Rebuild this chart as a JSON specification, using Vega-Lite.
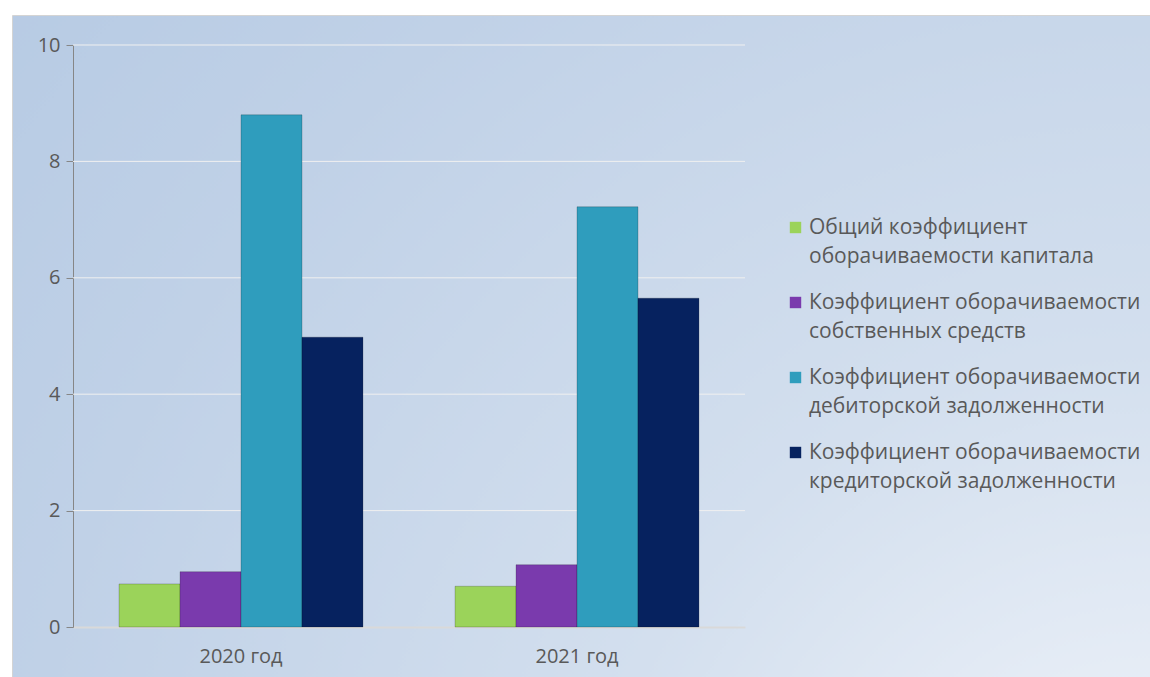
{
  "$schema": "https://vega.github.io/schema/vega-lite/v6.json",
  "width": 1138,
  "height": 662,
  "autosize": "none",
  "padding": {"left": 12, "top": 15, "right": 0, "bottom": 0},
  "background": "#ffffff",
  "config": {
    "font": "Open Sans",
    "view": {
      "fill": {"gradient": "radial", "x1": 1, "y1": 1, "r1": 0, "x2": 1, "y2": 1, "r2": 1.414,
        "stops": [
          {"offset": 0, "color": "#f3f6fb"},
          {"offset": 0.35, "color": "#d3dfee"},
          {"offset": 0.7, "color": "#c0d1e7"},
          {"offset": 1, "color": "#b3c8e2"}
        ]},
      "stroke": "#d4d4d4"
    },
    "style": {"guide-label": {"lineHeight": 29}}
  },
  "layer": [
    {
      "data": {"values": [{"value": 2}, {"value": 4}, {"value": 6}, {"value": 8}, {"value": 10}]},
      "mark": {"type": "rule", "color": "#f0f0f0", "strokeWidth": 1},
      "encoding": {
        "x": {"datum": 0, "type": "quantitative", "scale": {"domain": [0, 1], "range": [61, 733]}, "axis": null},
        "x2": {"datum": 1},
        "y": {"field": "value", "type": "quantitative"}
      }
    },
    {
      "data": {"values": [
        {"year": "2020 год", "series": "Общий коэффициент оборачиваемости капитала", "value": 0.74},
        {"year": "2020 год", "series": "Коэффициент оборачиваемости собственных средств", "value": 0.95},
        {"year": "2020 год", "series": "Коэффициент оборачиваемости дебиторской задолженности", "value": 8.8},
        {"year": "2020 год", "series": "Коэффициент оборачиваемости кредиторской задолженности", "value": 4.98},
        {"year": "2021 год", "series": "Общий коэффициент оборачиваемости капитала", "value": 0.7},
        {"year": "2021 год", "series": "Коэффициент оборачиваемости собственных средств", "value": 1.07},
        {"year": "2021 год", "series": "Коэффициент оборачиваемости дебиторской задолженности", "value": 7.22},
        {"year": "2021 год", "series": "Коэффициент оборачиваемости кредиторской задолженности", "value": 5.65}
      ]},
      "mark": {"type": "bar", "stroke": "#000000", "strokeOpacity": 0.2, "strokeWidth": 1},
      "encoding": {
        "x": {
          "field": "year", "type": "nominal",
          "scale": {"range": [61, 733], "paddingInner": 0.274, "paddingOuter": 0.137},
          "axis": {"title": null, "orient": "bottom", "offset": -50, "labelAngle": 0, "ticks": false,
            "domainColor": "#d9d9d9", "domainWidth": 2, "labelFontSize": 20, "labelColor": "#595959", "labelPadding": 19}
        },
        "xOffset": {
          "field": "series", "type": "nominal",
          "scale": {"domain": [
            "Общий коэффициент оборачиваемости капитала",
            "Коэффициент оборачиваемости собственных средств",
            "Коэффициент оборачиваемости дебиторской задолженности",
            "Коэффициент оборачиваемости кредиторской задолженности"
          ], "paddingInner": 0, "paddingOuter": 0}
        },
        "y": {
          "field": "value", "type": "quantitative",
          "scale": {"domain": [0, 10], "range": [612, 30], "nice": false, "zero": true},
          "axis": {"title": null, "orient": "left", "offset": -61, "values": [0, 2, 4, 6, 8, 10], "format": "d", "grid": false,
            "tickSize": 7, "tickColor": "#868686", "domainColor": "#868686", "labelFontSize": 20,
            "labelColor": "#595959", "labelPadding": 6}
        },
        "color": {
          "field": "series", "type": "nominal",
          "scale": {"domain": [
            "Общий коэффициент оборачиваемости капитала",
            "Коэффициент оборачиваемости собственных средств",
            "Коэффициент оборачиваемости дебиторской задолженности",
            "Коэффициент оборачиваемости кредиторской задолженности"
          ], "range": ["#9bd35a", "#7a3aad", "#2f9dbd", "#06225f"]},
          "legend": {
            "title": null, "orient": "none", "legendX": 773, "legendY": 202, "padding": 0,
            "symbolType": "square", "symbolSize": 130, "symbolStrokeWidth": 0,
            "labelFontSize": 21, "labelColor": "#595959", "labelLimit": 400, "labelOffset": 3,
            "rowPadding": 24, "labelBaseline": "middle",
            "labelExpr": "[join(slice(split(datum.label, ' '), 0, 2), ' '), join(slice(split(datum.label, ' '), 2), ' ')]"
          }
        }
      }
    }
  ],
  "resolve": {"scale": {"x": "independent"}}
}
